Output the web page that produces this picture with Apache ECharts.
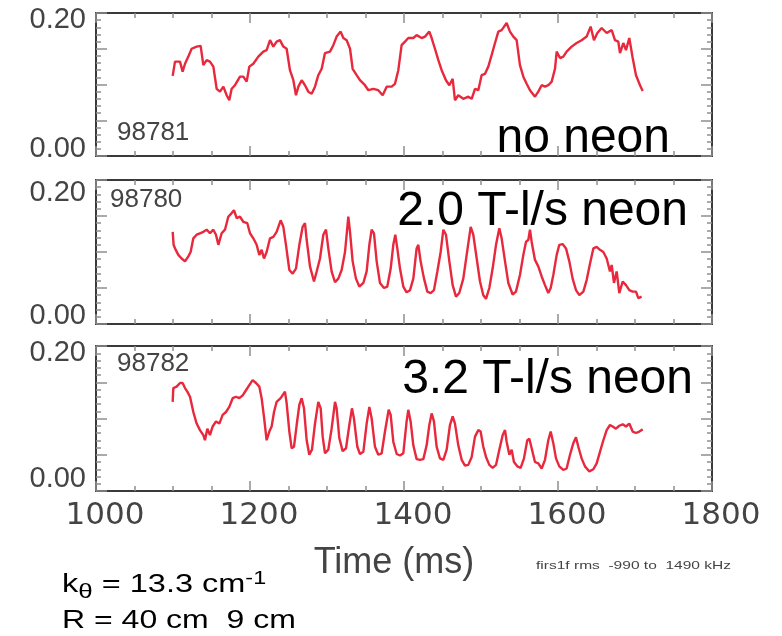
<!DOCTYPE html>
<html><head><meta charset="utf-8">
<script src="https://cdn.jsdelivr.net/npm/echarts@6/dist/echarts.min.js"></script>
<style>html,body{margin:0;padding:0;background:#fff}#c{width:782px;height:636px}</style>
</head><body><div id="c"></div>
<script>
// ---- data ----
const xTicks = [1000, 1200, 1400, 1600, 1800];
const yTickLabels = { 0: '0.00', 0.2: '0.20' };
const panelLabels = ['no neon', '2.0 T-l/s neon', '3.2 T-l/s neon'];
const shotNumbers = ['98781', '98780', '98782'];
const xTitle = 'Time (ms)';
const noteSignal = 'firs1f rms  -990 to  1490 kHz';

// shot 98781, no neon: [time ms, rms]
const shot98781 = [
[1099.6,0.112],[1102.6,0.132],[1109.1,0.132],[1112.5,0.118],[1115.6,0.129],[1119.9,0.139],[1124.2,0.150],[1130.7,0.153],[1135.9,0.154],[1139.4,0.127],
[1143.7,0.134],[1148.0,0.132],[1152.4,0.125],[1156.7,0.094],[1161.0,0.090],[1165.4,0.097],[1169.7,0.085],[1173.1,0.078],[1176.2,0.094],[1180.5,0.099],
[1187.0,0.111],[1191.3,0.111],[1195.7,0.104],[1199.1,0.125],[1204.3,0.129],[1210.8,0.139],[1217.3,0.146],[1221.6,0.148],[1226.0,0.162],[1230.3,0.153],
[1234.6,0.160],[1238.9,0.162],[1243.3,0.153],[1247.6,0.150],[1251.9,0.120],[1256.3,0.106],[1259.7,0.085],[1262.8,0.097],[1267.1,0.106],[1271.4,0.099],
[1275.7,0.090],[1280.1,0.087],[1284.4,0.097],[1288.7,0.113],[1293.1,0.122],[1297.4,0.144],[1303.9,0.146],[1308.2,0.155],[1312.5,0.167],[1317.7,0.174],
[1321.2,0.165],[1325.5,0.162],[1329.9,0.150],[1333.3,0.122],[1338.5,0.113],[1342.8,0.106],[1349.3,0.099],[1353.7,0.092],[1360.2,0.094],[1366.6,0.092],
[1372.3,0.085],[1377.5,0.097],[1384.0,0.097],[1388.3,0.101],[1392.6,0.120],[1396.9,0.155],[1401.3,0.160],[1405.6,0.165],[1412.1,0.165],[1416.4,0.169],
[1422.9,0.165],[1427.3,0.167],[1432.9,0.174],[1435.9,0.165],[1440.2,0.150],[1444.6,0.134],[1448.9,0.120],[1454.5,0.106],[1458.9,0.099],[1463.2,0.108],
[1466.2,0.078],[1470.5,0.085],[1477.0,0.080],[1483.5,0.083],[1487.9,0.080],[1492.2,0.094],[1496.5,0.092],[1500.8,0.113],[1505.2,0.115],[1509.5,0.125],
[1513.8,0.141],[1518.2,0.158],[1522.5,0.174],[1526.8,0.176],[1533.3,0.186],[1537.6,0.174],[1542.0,0.167],[1546.3,0.162],[1550.6,0.127],[1555.0,0.111],
[1559.3,0.101],[1563.6,0.092],[1570.1,0.083],[1574.4,0.090],[1578.8,0.099],[1583.1,0.097],[1587.4,0.099],[1591.8,0.104],[1596.1,0.122],[1598.3,0.146],
[1602.6,0.137],[1606.9,0.139],[1611.2,0.146],[1617.7,0.153],[1624.2,0.158],[1630.7,0.162],[1637.2,0.167],[1642.4,0.181],[1646.7,0.162],[1651.1,0.172],
[1656.7,0.179],[1663.2,0.172],[1669.7,0.176],[1674.0,0.162],[1678.3,0.160],[1680.5,0.144],[1684.8,0.158],[1688.3,0.148],[1692.6,0.165],[1697.0,0.137],
[1701.3,0.113],[1706.5,0.099],[1710.0,0.091]
];

// shot 98780, 2.0 T-l/s neon
const shot98780 = [
[1099.6,0.128],[1100.8,0.110],[1102.6,0.105],[1106.9,0.096],[1111.2,0.091],[1115.6,0.087],[1119.9,0.094],[1122.9,0.100],[1126.4,0.119],[1130.7,0.124],
[1135.0,0.126],[1139.4,0.128],[1143.7,0.131],[1148.0,0.126],[1152.4,0.131],[1155.8,0.124],[1158.9,0.110],[1163.2,0.126],[1167.5,0.131],[1171.8,0.149],
[1176.2,0.154],[1179.2,0.158],[1182.7,0.147],[1187.0,0.149],[1191.3,0.142],[1196.5,0.140],[1200.0,0.126],[1204.3,0.119],[1208.6,0.110],[1212.1,0.096],
[1215.1,0.103],[1218.2,0.091],[1221.6,0.100],[1226.0,0.119],[1230.3,0.121],[1234.6,0.128],[1239.8,0.144],[1243.3,0.135],[1246.7,0.110],[1251.1,0.075],
[1255.4,0.070],[1259.7,0.077],[1264.1,0.110],[1268.4,0.135],[1271.4,0.140],[1273.6,0.117],[1277.9,0.080],[1283.1,0.059],[1286.6,0.073],[1290.9,0.091],
[1295.2,0.124],[1298.7,0.131],[1301.7,0.105],[1306.0,0.073],[1310.4,0.058],[1314.7,0.063],[1319.0,0.075],[1323.4,0.100],[1327.7,0.149],[1329.9,0.128],
[1333.3,0.087],[1337.6,0.063],[1342.0,0.052],[1347.2,0.057],[1351.5,0.073],[1355.0,0.110],[1358.0,0.131],[1361.0,0.126],[1364.5,0.087],[1368.8,0.057],
[1374.0,0.050],[1378.3,0.052],[1382.7,0.077],[1386.1,0.110],[1388.7,0.124],[1391.3,0.105],[1394.8,0.077],[1399.1,0.052],[1403.4,0.044],[1407.8,0.047],
[1412.1,0.063],[1416.4,0.105],[1418.6,0.110],[1421.6,0.087],[1426.0,0.063],[1430.3,0.045],[1434.6,0.043],[1438.9,0.047],[1443.3,0.073],[1447.6,0.100],
[1451.1,0.131],[1454.5,0.124],[1458.9,0.087],[1463.2,0.054],[1467.5,0.038],[1471.8,0.043],[1477.0,0.063],[1481.4,0.096],[1486.6,0.135],[1490.0,0.124],
[1494.4,0.091],[1498.7,0.059],[1503.0,0.040],[1506.5,0.035],[1510.8,0.050],[1515.1,0.077],[1519.5,0.110],[1523.8,0.133],[1526.8,0.119],[1531.2,0.087],
[1535.5,0.057],[1541.1,0.041],[1545.4,0.045],[1550.6,0.068],[1555.0,0.096],[1558.4,0.114],[1561.5,0.117],[1563.6,0.131],[1565.8,0.114],[1570.1,0.089],
[1574.4,0.080],[1578.8,0.066],[1583.1,0.054],[1587.4,0.043],[1590.5,0.050],[1593.9,0.068],[1598.3,0.096],[1601.7,0.110],[1606.0,0.111],[1610.4,0.105],
[1614.7,0.087],[1619.0,0.063],[1623.4,0.047],[1627.7,0.040],[1632.9,0.045],[1637.2,0.061],[1641.6,0.084],[1645.9,0.105],[1650.2,0.107],[1654.5,0.103],
[1658.9,0.100],[1663.2,0.091],[1667.5,0.073],[1669.7,0.082],[1672.7,0.057],[1676.2,0.073],[1679.6,0.043],[1684.0,0.059],[1688.3,0.054],[1692.6,0.047],
[1696.9,0.045],[1701.3,0.045],[1704.3,0.036],[1708.6,0.038]
];

// shot 98782, 3.2 T-l/s neon
const shot98782 = [
[1099.6,0.123],[1100.4,0.142],[1104.7,0.144],[1109.1,0.149],[1112.5,0.149],[1115.6,0.142],[1118.6,0.137],[1122.1,0.130],[1126.4,0.109],[1130.7,0.093],
[1135.0,0.084],[1139.4,0.077],[1141.5,0.070],[1144.6,0.086],[1148.0,0.077],[1151.5,0.089],[1155.8,0.096],[1160.2,0.093],[1164.5,0.105],[1168.8,0.109],
[1173.1,0.116],[1177.5,0.128],[1181.8,0.130],[1186.1,0.128],[1190.5,0.132],[1194.8,0.139],[1199.1,0.146],[1203.4,0.153],[1207.8,0.149],[1212.1,0.144],
[1215.1,0.128],[1218.2,0.102],[1221.6,0.070],[1225.1,0.082],[1228.1,0.089],[1231.2,0.109],[1234.6,0.123],[1239.8,0.128],[1245.4,0.137],[1247.6,0.121],
[1251.1,0.082],[1254.1,0.059],[1257.1,0.061],[1260.6,0.091],[1264.1,0.119],[1267.1,0.128],[1270.1,0.114],[1273.6,0.070],[1277.0,0.050],[1280.5,0.057],
[1284.4,0.093],[1288.7,0.123],[1291.8,0.114],[1294.4,0.075],[1297.4,0.052],[1301.7,0.057],[1306.0,0.086],[1310.4,0.123],[1312.5,0.114],[1316.0,0.073],
[1320.3,0.055],[1324.7,0.059],[1329.0,0.091],[1332.4,0.114],[1335.0,0.100],[1339.4,0.061],[1342.8,0.051],[1347.2,0.054],[1351.5,0.093],[1355.0,0.116],
[1358.0,0.100],[1362.3,0.061],[1366.6,0.050],[1371.0,0.052],[1375.3,0.082],[1380.1,0.112],[1382.7,0.105],[1386.1,0.068],[1390.5,0.051],[1394.8,0.049],
[1399.1,0.052],[1403.4,0.096],[1405.6,0.112],[1408.6,0.096],[1412.1,0.063],[1416.4,0.044],[1420.8,0.043],[1425.1,0.044],[1429.4,0.063],[1432.9,0.091],
[1435.9,0.107],[1438.9,0.096],[1442.4,0.061],[1446.7,0.045],[1451.1,0.043],[1455.4,0.057],[1459.7,0.091],[1463.2,0.103],[1466.2,0.093],[1470.5,0.063],
[1474.9,0.043],[1479.2,0.035],[1483.5,0.036],[1487.9,0.047],[1492.2,0.075],[1496.5,0.084],[1499.5,0.082],[1503.0,0.061],[1506.5,0.047],[1510.8,0.036],
[1515.1,0.032],[1519.5,0.036],[1523.8,0.057],[1528.1,0.077],[1531.2,0.084],[1533.3,0.068],[1536.8,0.050],[1539.8,0.057],[1542.8,0.040],[1547.2,0.034],
[1551.5,0.032],[1555.8,0.045],[1560.1,0.070],[1562.8,0.072],[1565.8,0.059],[1570.1,0.040],[1574.4,0.038],[1578.8,0.031],[1583.1,0.043],[1587.4,0.070],
[1590.5,0.082],[1593.9,0.066],[1597.4,0.045],[1601.7,0.034],[1606.9,0.029],[1611.2,0.031],[1615.6,0.050],[1619.9,0.066],[1623.3,0.074],[1626.4,0.061],
[1630.7,0.045],[1635.0,0.034],[1640.7,0.027],[1645.9,0.030],[1650.2,0.038],[1654.5,0.054],[1658.9,0.070],[1663.2,0.084],[1667.5,0.091],[1671.0,0.089],
[1675.3,0.086],[1679.6,0.090],[1684.0,0.092],[1688.3,0.089],[1692.6,0.093],[1697.0,0.082],[1701.3,0.080],[1705.6,0.082],[1710.0,0.085]
];

const panelData = [shot98781, shot98780, shot98782];

// ---- layout / style ----
const grids = [
  { left: 96, width: 616, top: 13, height: 143 },
  { left: 96, width: 616, top: 180, height: 144 },
  { left: 96, width: 616, top: 346, height: 145 }
];
const topShift = [14, 26, 14];
const botShift = [14, 16, 24];
const AXIS = '#3a3a3a', TICK = '#8f8f8f', LABEL = '#444444', RED = '#e8283c';
const SANS = '"Liberation Sans", Arial, Helvetica, sans-serif';

const xAxes = [], yAxes = [], series = [];
grids.forEach((g, i) => {
  ['bottom', 'top'].forEach(pos => {
    const showLab = (pos === 'bottom' && i === 2);
    xAxes.push({
      gridIndex: i, type: 'value', position: pos, min: 1000, max: 1800, interval: 200,
      axisLine: { show: true, onZero: false, lineStyle: { color: AXIS, width: 2 } },
      axisTick: { show: true, inside: true, length: 10, lineStyle: { color: TICK, width: 1.5 } },
      minorTick: { show: true, splitNumber: 4, length: 5, lineStyle: { color: TICK, width: 1.5 } },
      splitLine: { show: false }, minorSplitLine: { show: false },
      axisLabel: {
        show: showLab, margin: 9, fontSize: 31, color: LABEL,
        fontFamily: '"DejaVu Sans", sans-serif', padding: [0, 0, 0, 18],
        formatter: v => (xTicks.indexOf(v) >= 0 ? String(v) : '')
      },
      name: showLab ? xTitle : '', nameLocation: 'middle', nameGap: 54,
      nameTextStyle: { fontSize: 36, color: LABEL, fontFamily: SANS, padding: [0, 20, 0, 0] }
    });
  });
  ['left', 'right'].forEach(pos => {
    yAxes.push({
      gridIndex: i, type: 'value', position: pos, min: 0, max: 0.2, interval: 0.05,
      axisLine: { show: true, onZero: false, lineStyle: { color: AXIS, width: 2 } },
      axisTick: { show: true, inside: true, length: 11, lineStyle: { color: TICK, width: 1.5 } },
      minorTick: { show: true, splitNumber: 5, length: 5, lineStyle: { color: TICK, width: 1.5 } },
      splitLine: { show: false }, minorSplitLine: { show: false },
      axisLabel: {
        show: pos === 'left', margin: 10, color: LABEL, fontSize: 29, fontFamily: SANS,
        formatter: v => {
          const key = Math.round(v * 100) / 100;
          if (key === 0.2) return '{t|' + yTickLabels[0.2] + '}';
          if (key === 0) return '{b|' + yTickLabels[0] + '}';
          return '';
        },
        rich: {
          t: { fontSize: 29, color: LABEL, fontFamily: SANS, padding: [topShift[i], 0, 0, 0] },
          b: { fontSize: 29, color: LABEL, fontFamily: SANS, padding: [0, 0, botShift[i], 0] }
        }
      }
    });
  });
  series.push({
    type: 'line', xAxisIndex: 2 * i, yAxisIndex: 2 * i, data: panelData[i],
    showSymbol: false, symbol: 'none', smooth: false,
    lineStyle: { color: RED, width: 2.4 }, z: 3
  });
});

const bigRight = [670, 688, 693];
const bigY = [139, 212, 380];
const shotX = [117, 110, 117];
const shotY = [133, 200, 364];
const graphic = [];
panelLabels.forEach((t, i) => {
  graphic.push({ type: 'text', z: 10, style: { text: t, x: bigRight[i], y: bigY[i], align: 'right', verticalAlign: 'middle', fontSize: 48, fontFamily: SANS, fill: '#000' } });
  graphic.push({ type: 'text', z: 10, style: { text: shotNumbers[i], x: shotX[i], y: shotY[i], align: 'left', verticalAlign: 'middle', fontSize: 26, fontFamily: SANS, fill: LABEL } });
});
graphic.push({ type: 'text', x: 536, y: 566, scaleX: 1.35, style: { text: noteSignal, x: 0, y: 0, align: 'left', verticalAlign: 'middle', fontSize: 11.5, fontFamily: SANS, fill: LABEL } });
graphic.push({ type: 'text', x: 62, y: 585, scaleX: 1.3, style: {
  text: '{a|k}{s|θ}{a| = 13.3 cm}{p|-1}', x: 0, y: 0, align: 'left', verticalAlign: 'middle',
  rich: {
    a: { fontSize: 25, fontFamily: SANS, fill: '#000', color: '#000' },
    s: { fontSize: 20, fontFamily: SANS, fill: '#000', color: '#000', padding: [14, 0, 0, 0] },
    p: { fontSize: 18, fontFamily: SANS, fill: '#000', color: '#000', padding: [0, 0, 12, 0] }
  } } });
graphic.push({ type: 'text', x: 62, y: 621, scaleX: 1.28, style: { text: 'R = 40 cm  9 cm', x: 0, y: 0, align: 'left', verticalAlign: 'middle', fontSize: 25, fontFamily: SANS, fill: '#000' } });

const chart = echarts.init(document.getElementById('c'), null, { renderer: 'canvas' });
chart.setOption({
  animation: false,
  backgroundColor: '#fff',
  grid: grids,
  xAxis: xAxes,
  yAxis: yAxes,
  series: series,
  graphic: graphic
});
</script></body></html>
